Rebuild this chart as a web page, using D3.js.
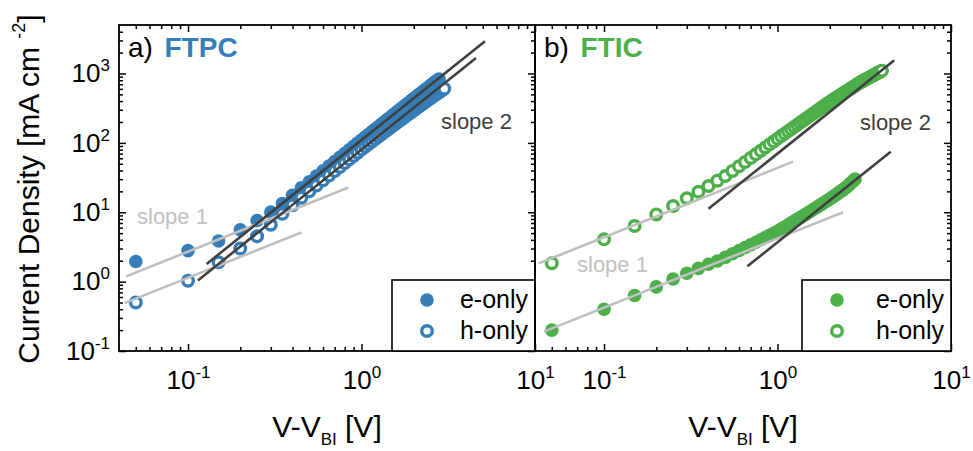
<!DOCTYPE html>
<html>
<head>
<meta charset="utf-8">
<title>Current density vs V-VBI, FTPC and FTIC</title>
<script src="https://cdn.jsdelivr.net/npm/d3@7/dist/d3.min.js"></script>
<style>
body { margin: 0; background: #fff; }
svg text { font-family: "Liberation Sans", Arial, Helvetica, sans-serif; }
.tick line { stroke: #000; stroke-width: 1.5; }
</style>
</head>
<body>
<script>
// V-VBI [V], shared by all four curves (each curve uses the first n values)
var voltage = [0.05,0.10,0.15,0.20,0.25,0.30,0.35,0.40,0.45,0.50,0.55,0.60,0.65,0.70,0.75,0.80,0.85,0.90,0.95,1.00,
  1.05,1.10,1.15,1.20,1.25,1.30,1.35,1.40,1.45,1.50,1.55,1.60,1.65,1.70,1.75,1.80,1.85,1.90,1.95,2.00,
  2.05,2.10,2.15,2.20,2.25,2.30,2.35,2.40,2.45,2.50,2.55,2.60,2.65,2.70,2.75,2.80,2.85,2.90,2.95,3.00,
  3.05,3.10,3.15,3.20,3.25,3.30,3.35,3.40,3.45,3.50,3.55,3.60,3.65,3.70,3.75,3.80,3.85,3.90,3.95,4.00];

// current density [mA cm^-2]
var ftpcElectron = [1.95,2.8,3.85,5.6,7.6,10.1,13.4,17.6,22.5,
  27.5,33.3,39.6,46.5,53.9,61.9,70.4,79.5,89.1,99.3,110,
  121,133,145,158,171,185,200,215,230,246,
  263,280,297,315,334,353,372,392,413,434,
  455,477,500,523,546,570,594,619,644,670,
  696,723,750,778,806,835];
var ftpcHole = [0.5,1.03,1.9,3.0,4.5,6.6,9.5,12.6,16.2,
  20.0,24.2,28.8,33.8,39.2,45.0,51.2,57.8,64.8,72.2,80.0,
  87.8,96.0,104.5,113.4,122.5,132.0,141.7,151.8,162.1,172.8,
  183.7,195.0,206.5,218.3,230.3,242.6,255.2,268.0,281.1,294.4,
  308.0,321.7,335.8,350.0,364.5,379.2,394.1,409.2,424.5,440.0,
  455.7,471.6,487.6,503.9,520.3,536.9,553.6,570.5,587.6,604.8];
var fticElectron = [0.20,0.40,0.63,0.84,1.09,1.32,1.55,1.78,1.98,
  2.24,2.52,2.81,3.10,3.40,3.70,4.01,4.33,4.64,4.96,5.30,
  5.71,6.13,6.55,6.99,7.44,7.90,8.36,8.84,9.32,9.82,
  10.32,10.86,11.40,11.96,12.52,13.10,13.68,14.27,14.87,15.50,
  16.19,16.90,17.62,18.35,19.09,19.85,20.62,21.40,22.20,23.00,
  24.09,25.21,26.36,27.54,28.75,29.98];
var fticHole = [1.84,4.07,6.33,9.3,12.3,15.9,19.7,23.9,28.5,
  33.2,39.4,46.0,53.1,60.6,68.6,77.0,85.8,95.1,104.7,115,
  125.3,136.0,147.1,158.5,170.3,182.5,195.0,207.9,221.2,234.7,
  248.7,263.0,277.6,292.6,307.9,323.6,339.6,355.9,372.5,389.5,
  405.2,421.1,437.3,453.6,470.3,487.1,504.2,521.4,538.9,556.6,
  574.6,592.7,611.0,629.6,648.3,667.3,686.5,705.8,725.4,745.2,
  762.0,778.9,795.9,813.0,830.2,847.5,864.9,882.4,899.9,917.6,
  935.3,953.2,971.1,989.1,1007,1025,1044,1062,1080,1099];

// guide lines, end points [V, J]
var ftpcSlope1 = [[[0.044, 1.19], [0.84, 22.7]], [[0.043, 0.49], [0.45, 5.1]]];
var ftpcSlope2 = [[[0.128, 1.80], [5.15, 2917]], [[0.114, 1.04], [4.57, 1671]]];
var fticSlope1 = [[[0.042, 1.83], [1.23, 53.6]], [[0.045, 0.19], [2.39, 10.0]]];
var fticSlope2 = [[[0.40, 11.2], [4.71, 1553]], [[0.67, 1.66], [4.49, 74.6]]];

var xMajor = [0.1, 1, 10];
var xMinor = [0.05,0.06,0.07,0.08,0.09,0.2,0.3,0.4,0.5,0.6,0.7,0.8,0.9,2,3,4,5,6,7,8,9];
var yMajor = [0.1, 1, 10, 100, 1000];
var yMinor = [0.2,0.3,0.4,0.5,0.6,0.7,0.8,0.9,2,3,4,5,6,7,8,9,20,30,40,50,60,70,80,90,
  200,300,400,500,600,700,800,900,2000,3000,4000];
var legendLabels = ["e-only", "h-only"];

var w = 973, h = 451, plotTop = 25, plotBottom = 351;
var gray = "#c0c0c0", dark = "#404040";

var svg = d3.select("body").append("svg").attr("width", w).attr("height", h);

var y = d3.scaleLog().domain([0.1, 5000]).range([plotBottom, plotTop]);

var panels = [
  {x0: 119, x1: 535, tag: "a)", name: "FTPC", color: "#377eb8", e: ftpcElectron, hl: ftpcHole,
   s1: ftpcSlope1, s2: ftpcSlope2, yLabels: true, legendW: 143, s1Pos: [18, 224], s2Pos: [322, 129]},
  {x0: 535, x1: 951, tag: "b)", name: "FTIC", color: "#4daf4a", e: fticElectron, hl: fticHole,
   s1: fticSlope1, s2: fticSlope2, yLabels: false, legendW: 149, s1Pos: [42, 272], s2Pos: [325, 130]}
];

function powerLabels(axisG) {
  axisG.attr("font-size", 26);
  axisG.selectAll(".tick text").each(function(d) {
    var t = d3.select(this);
    t.text("10");
    t.append("tspan").attr("dy", -11).attr("font-size", 17).text(Math.round(Math.log10(d)));
  });
}

function marks(axis, vals, size) {
  return axis.tickValues(vals).tickSize(-size).tickSizeOuter(0).tickFormat("");
}

panels.forEach(function(p) {
  var x = d3.scaleLog().domain([0.04, 10]).range([p.x0, p.x1]);
  var g = svg.append("g");

  // e-only filled, h-only open on top
  g.selectAll("circle.e").data(p.e).enter().append("circle")
    .attr("class", "e")
    .attr("cx", function(d, i) { return x(voltage[i]); })
    .attr("cy", function(d) { return y(d); })
    .attr("r", 6.8)
    .attr("fill", p.color);
  g.selectAll("circle.h").data(p.hl).enter().append("circle")
    .attr("class", "h")
    .attr("cx", function(d, i) { return x(voltage[i]); })
    .attr("cy", function(d) { return y(d); })
    .attr("r", 5.3)
    .attr("fill", "#fff")
    .attr("stroke", p.color)
    .attr("stroke-width", 3.4);

  var line = d3.line().x(function(d) { return x(d[0]); }).y(function(d) { return y(d[1]); });
  p.s1.forEach(function(seg) {
    g.append("path").attr("d", line(seg)).attr("fill", "none").attr("stroke", gray).attr("stroke-width", 2.6);
  });
  p.s2.forEach(function(seg) {
    g.append("path").attr("d", line(seg)).attr("fill", "none").attr("stroke", dark).attr("stroke-width", 2.6);
  });

  // ticks on every side, pointing in
  var bx = g.append("g").attr("transform", "translate(0," + plotBottom + ")")
    .call(d3.axisBottom(x).tickValues(xMajor).tickSize(-7).tickSizeOuter(0).tickPadding(20)
      .tickFormat(function(d) { return d; }));
  powerLabels(bx);
  g.append("g").attr("transform", "translate(0," + plotBottom + ")").call(marks(d3.axisBottom(x), xMinor, 4));
  g.append("g").attr("transform", "translate(0," + plotTop + ")").call(marks(d3.axisTop(x), xMajor, 7));
  g.append("g").attr("transform", "translate(0," + plotTop + ")").call(marks(d3.axisTop(x), xMinor, 4));
  g.append("g").attr("transform", "translate(" + p.x1 + ",0)").call(marks(d3.axisRight(y), yMajor, 7));
  g.append("g").attr("transform", "translate(" + p.x1 + ",0)").call(marks(d3.axisRight(y), yMinor, 4));
  if (p.yLabels) {
    var ly = g.append("g").attr("transform", "translate(" + p.x0 + ",0)")
      .call(d3.axisLeft(y).tickValues(yMajor).tickSize(-7).tickSizeOuter(0).tickPadding(9)
        .tickFormat(function(d) { return d; }));
    powerLabels(ly);
    g.append("g").attr("transform", "translate(" + p.x0 + ",0)").call(marks(d3.axisLeft(y), yMinor, 4));
  }
  g.selectAll(".domain").remove();

  g.append("rect")
    .attr("x", p.x0).attr("y", plotTop)
    .attr("width", p.x1 - p.x0).attr("height", plotBottom - plotTop)
    .attr("fill", "none").attr("stroke", "#000").attr("stroke-width", 1.8);

  // legend
  var lx = p.x1 - p.legendW;
  g.append("rect").attr("x", lx).attr("y", 280).attr("width", p.legendW).attr("height", plotBottom - 280)
    .attr("fill", "#fff").attr("stroke", "#000").attr("stroke-width", 1.6);
  g.append("circle").attr("cx", lx + 35).attr("cy", 300).attr("r", 6.8).attr("fill", p.color);
  g.append("circle").attr("cx", lx + 35).attr("cy", 331).attr("r", 5.3)
    .attr("fill", "#fff").attr("stroke", p.color).attr("stroke-width", 3.4);
  legendLabels.forEach(function(s, i) {
    g.append("text").attr("x", p.x1 - 7).attr("y", 308 + 31 * i)
      .attr("text-anchor", "end").attr("font-size", 25).text(s);
  });

  // panel tag and name
  g.append("text").attr("x", p.x0 + 9).attr("y", 57).attr("font-size", 28).text(p.tag);
  g.append("text").attr("x", p.x0 + 45.5).attr("y", 57).attr("font-size", 28)
    .attr("font-weight", "bold").attr("fill", p.color).text(p.name);

  g.append("text").attr("x", p.x0 + p.s1Pos[0]).attr("y", p.s1Pos[1])
    .attr("font-size", 22).attr("fill", gray).text("slope 1");
  g.append("text").attr("x", p.x0 + p.s2Pos[0]).attr("y", p.s2Pos[1])
    .attr("font-size", 22).attr("fill", dark).text("slope 2");

  // x title
  var xt = g.append("text").attr("x", (p.x0 + p.x1) / 2).attr("y", 437)
    .attr("text-anchor", "middle").attr("font-size", 30);
  xt.append("tspan").text("V-V");
  xt.append("tspan").attr("dy", 8).attr("font-size", 17).text("BI");
  xt.append("tspan").attr("dy", -8).text(" [V]");
});

var yt = svg.append("text").attr("transform", "translate(39,189) rotate(-90)")
  .attr("text-anchor", "middle").attr("font-size", 30);
yt.append("tspan").text("Current Density [mA cm ");
yt.append("tspan").attr("dy", -14).attr("font-size", 18).text("-2");
yt.append("tspan").attr("dy", 14).text("]");
</script>
</body>
</html>
